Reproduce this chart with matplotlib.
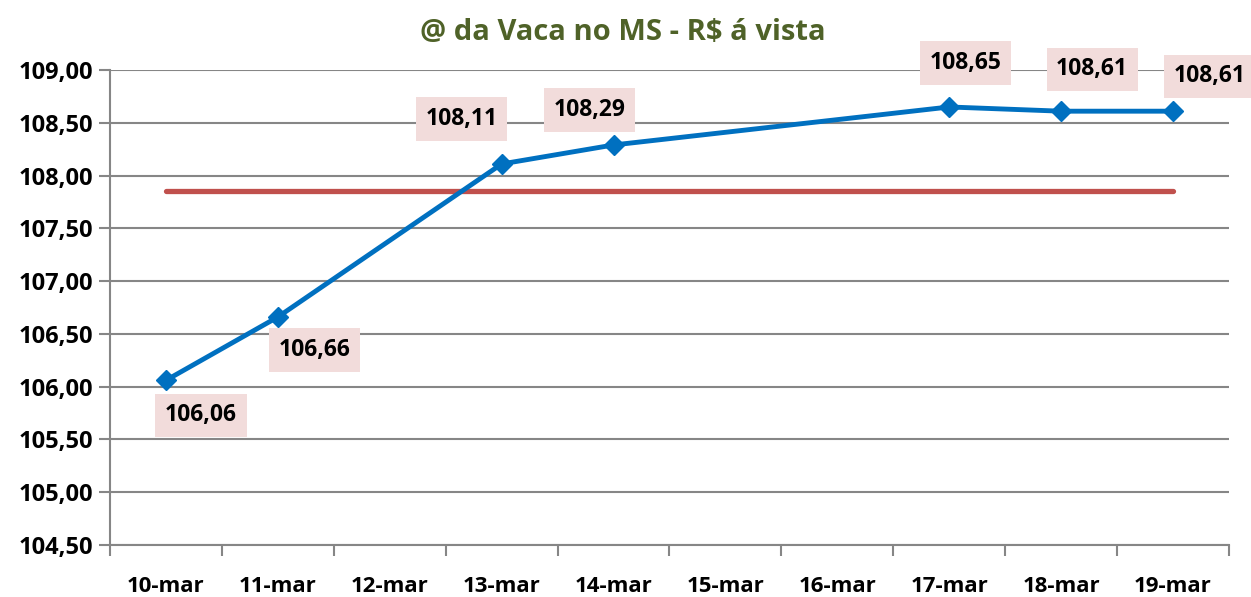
import matplotlib.pyplot as plt
import numpy as np

# datas e preços (dias sem cotação ficam como None)
dias = ['10-mar', '11-mar', '12-mar', '13-mar', '14-mar',
        '15-mar', '16-mar', '17-mar', '18-mar', '19-mar']
precos = [106.06, 106.66, None, 108.11, 108.29, None, None, 108.65, 108.61, 108.61]

# deslocamento dos rótulos (pixels)
offsets = [(35, -35), (37, -33), None, (-40, 45), (-24, 35),
           None, None, (16, 44), (31, 42), (37, 35)]

plt.rcParams['font.family'] = ['Open Sans', 'DejaVu Sans']
plt.rcParams['font.weight'] = 'bold'

idx = [i for i, p in enumerate(precos) if p is not None]
vals = [precos[i] for i in idx]
media = np.mean(vals)

fig = plt.figure(figsize=(12.51, 5.97), dpi=100)
ax = fig.add_axes([0.0879, 0.0871, 0.8945, 0.7956])

ax.plot([0, len(dias) - 1], [media, media], color='#C0504D', lw=3.8,
        solid_capstyle='round', zorder=2)
ax.plot(idx, vals, color='#0070C0', lw=3.5, marker='D', markersize=10, zorder=3)

for i, v in zip(idx, vals):
    ax.annotate(f'{v:.2f}'.replace('.', ','), (i, v), xytext=offsets[i],
                textcoords='offset pixels', ha='center', va='center',
                fontsize=16.5, fontweight='bold', color='black',
                bbox=dict(boxstyle='square,pad=0.42', fc='#F2DCDB', ec='none'),
                zorder=4)

ax.set_xlim(-0.5, len(dias) - 0.5)
ax.set_ylim(104.5, 109.0)
ax.set_yticks(np.arange(104.5, 109.01, 0.5))
ax.set_yticklabels([f'{t:.2f}'.replace('.', ',') for t in np.arange(104.5, 109.01, 0.5)],
                   fontsize=17, fontweight='bold')
ax.set_xticks(range(len(dias)))
ax.set_xticklabels(dias, fontsize=16, fontweight='bold')
ax.set_xticks(np.arange(-0.5, len(dias), 1), minor=True)
ax.tick_params(axis='x', which='major', length=0, pad=22)
ax.tick_params(axis='x', which='minor', length=8, color='#868686', width=1.5)
ax.tick_params(axis='y', length=8, color='#868686', width=1.5, pad=4)

ax.grid(axis='y', color='#868686', lw=1.5)
ax.set_axisbelow(True)
for s in ['top', 'right']:
    ax.spines[s].set_visible(False)
for s in ['left', 'bottom']:
    ax.spines[s].set_color('#868686')
    ax.spines[s].set_linewidth(1.5)

fig.text(0.498, 0.945, '@ da Vaca no MS - R$ á vista', ha='center', va='center',
         fontsize=21, fontweight='bold', color='#4F6228')

fig.savefig('out.png', dpi=100)
